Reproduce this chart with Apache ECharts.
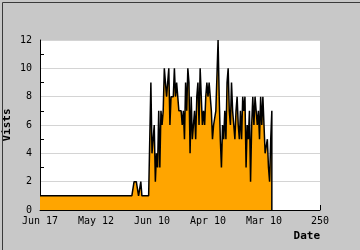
<!DOCTYPE html>
<html>
<head>
<meta charset="utf-8">
<script src="https://cdn.jsdelivr.net/npm/echarts@6/dist/echarts.min.js"></script>
<style>
html,body{margin:0;padding:0;background:#c8c8c8;}
#c{width:360px;height:250px;}
</style>
</head>
<body>
<div id="c"></div>
<script>
// x tick labels (at 0, 50, 100, 150, 200, 250)
var xTickLabels = ["Jun 17", "May 12", "Jun 10", "Apr 10", "Mar 10", "250"];
var yTicks = [0, 2, 4, 6, 8, 10, 12];
// daily visits, one value per day index starting at 0
var visitsEarly = [
  1,1,1,1,1,1,1,1,1,1, 1,1,1,1,1,1,1,1,1,1,
  1,1,1,1,1,1,1,1,1,1, 1,1,1,1,1,1,1,1,1,1,
  1,1,1,1,1,1,1,1,1,1, 1,1,1,1,1,1,1,1,1,1,
  1,1,1,1,1,1,1,1,1,1, 1,1,1,1,1,1,1,1,1,1,
  1,1,1,1,2,2,2,2,1,1, 2,1,1,1,1,1,1,1,1
];
var visitsLate = [
  9,4,4,6,2,4,3,7,3,7,
  6,7,10,10,8,9,10,6,8,8,
  8,10,8,9,8,7,7,7,6,7,
  5,9,7,10,9,4,8,5,5,7,
  5,8,9,6,10,8,6,7,6,8,
  9,8,9,8,7,5,6,6,7,7,
  12,8,5,3,6,5,7,5,9,10,
  7,6,9,7,6,5,7,8,6,5,
  7,5,8,7,8,3,6,5,7,2,
  6,8,6,8,7,6,7,5,8,6,
  8,6,4,4,5,3,2,5,7
];
var visits = visitsEarly.concat(visitsLate);

var pts = visits.map(function(v, i){ return [i, v]; });
// close the outline down to the axis at the last day
pts.push([visits.length - 1, 0]);

var font = "'DejaVu Sans Mono', monospace";
var chart = echarts.init(document.getElementById('c'), null, {renderer: 'canvas'});
chart.setOption({
  animation: false,
  backgroundColor: '#c8c8c8',
  graphic: [{
    type: 'rect', left: 0, top: 0, z: 100, silent: true,
    shape: {x: 0.5, y: 0.5, width: 359, height: 249},
    style: {fill: 'none', stroke: '#3a3a3a', lineWidth: 1}
  }],
  grid: {left: 40, right: 40, top: 40, bottom: 40, show: true, backgroundColor: '#ffffff',
    borderWidth: 0, containLabel: false, outerBoundsMode: 'none'},
  xAxis: {
    type: 'value', min: 0, max: 250, interval: 50,
    name: 'Date', nameLocation: 'end',
    nameGap: 0, nameMoveOverlap: false,
    nameTextStyle: {fontFamily: font, fontWeight: 'bold', fontSize: 11, color: '#000',
      align: 'right', verticalAlign: 'top', padding: [21, 0, 0, 0]},
    axisLine: {show: true, lineStyle: {color: '#000', width: 1}},
    axisTick: {show: true, inside: true, length: 5, lineStyle: {color: '#000'}},
    splitLine: {show: false},
    axisLabel: {
      fontFamily: font, fontSize: 10, color: '#000', margin: 6,
      formatter: function(v){ return xTickLabels[Math.round(v / 50)]; }
    }
  },
  yAxis: {
    type: 'value', min: 0, max: 12, interval: 2,
    name: 'Vists', nameLocation: 'middle', nameGap: 27, nameRotate: 90,
    nameMoveOverlap: false,
    nameTextStyle: {fontFamily: font, fontWeight: 'bold', fontSize: 11, color: '#000'},
    axisLine: {show: true, lineStyle: {color: '#000', width: 1}},
    axisTick: {show: true, inside: true, length: 0, lineStyle: {color: '#000'}},
    minorTick: {show: true, splitNumber: 2, length: 4, lineStyle: {color: '#000'}},
    splitLine: {show: true, lineStyle: {color: '#d4d4d4', width: 1}},
    axisLabel: {fontFamily: font, fontSize: 10, color: '#000', margin: 8,
      formatter: function(v){ return yTicks.indexOf(v) >= 0 ? String(v) : ''; }}
  },
  series: [{
    type: 'line',
    data: pts,
    symbol: 'none',
    lineStyle: {color: '#000', width: 1.5},
    areaStyle: {color: '#ffa500', opacity: 1},
    z: 3
  }]
});
</script>
</body>
</html>
